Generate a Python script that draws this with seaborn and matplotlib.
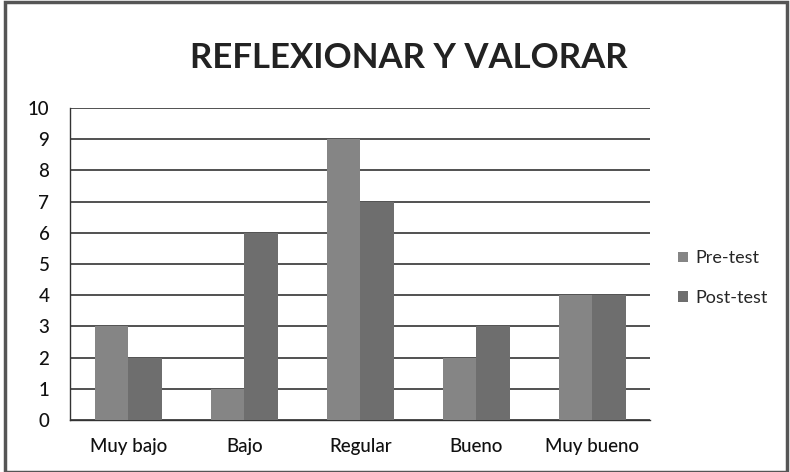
import matplotlib
matplotlib.use("Agg")
import matplotlib.pyplot as plt
import seaborn as sns
import pandas as pd
from matplotlib.patches import Rectangle

categories = ["Muy bajo", "Bajo", "Regular", "Bueno", "Muy bueno"]
pre_test = [3, 1, 9, 2, 4]
post_test = [2, 6, 7, 3, 4]
series = ["Pre-test", "Post-test"]
yticks = list(range(0, 11))

df = pd.DataFrame({
    "Categoría": categories * 2,
    "Valor": pre_test + post_test,
    "Serie": [series[0]] * len(categories) + [series[1]] * len(categories),
})

sns.set_style("white")
plt.rcParams["font.family"] = ["Lato", "DejaVu Sans"]

fig = plt.figure(figsize=(7.9, 4.72), dpi=100)
ax = fig.add_axes([0.089, 0.11, 0.734, 0.661])

sns.barplot(data=df, x="Categoría", y="Valor", hue="Serie", order=categories,
            hue_order=series, palette=["#858585", "#6e6e6e"], width=0.58,
            saturation=1, ax=ax, edgecolor="none", zorder=3)

ax.set_ylim(0, 10)
ax.set_yticks(yticks)
ax.set_xlim(-0.5, len(categories) - 0.5)
ax.yaxis.grid(True, color="#222222", linewidth=1.1, zorder=0)
ax.set_axisbelow(True)
for s in ["top", "right"]:
    ax.spines[s].set_visible(False)
for s in ["left", "bottom"]:
    ax.spines[s].set_color("#333333")
    ax.spines[s].set_linewidth(1.0)
ax.tick_params(axis="both", length=0, labelsize=13.5, colors="#111111")
ax.tick_params(axis="y", pad=15)
ax.tick_params(axis="x", pad=13)
for lbl in ax.get_xticklabels() + ax.get_yticklabels():
    lbl.set_fontweight("medium")
ax.set_xlabel("")
ax.set_ylabel("")

leg = ax.legend(loc="center left", bbox_to_anchor=(1.02, 0.455), frameon=False,
                fontsize=13, handlelength=0.55, handleheight=0.55,
                handletextpad=0.4, labelspacing=1.3)

fig.text(0.518, 0.877, "REFLEXIONAR Y VALORAR", ha="center", va="center",
         fontsize=25, fontweight="bold", color="#222222")

fig.patches.append(Rectangle((0.006, 0.0), 0.99, 0.995, transform=fig.transFigure,
                             fill=False, edgecolor="#555555", linewidth=2.5))

fig.savefig("out.png", dpi=100)
